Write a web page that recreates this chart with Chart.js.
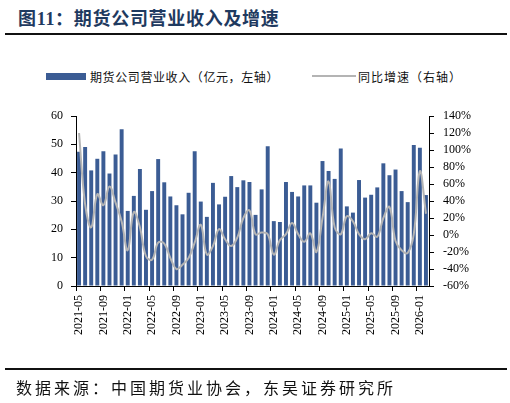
<!DOCTYPE html>
<html><head><meta charset="utf-8">
<script src="https://cdn.jsdelivr.net/npm/chart.js@4/dist/chart.umd.min.js"></script>
<style>
html,body{margin:0;padding:0;background:#fff;}
#wrap{position:relative;width:510px;height:403px;overflow:hidden;font-family:"Liberation Serif","Noto Sans CJK SC",serif;}
#title{position:absolute;left:18px;top:4px;font-family:"Liberation Serif","Noto Sans CJK SC",serif;font-weight:bold;font-size:18px;color:#1F3A60;white-space:nowrap;letter-spacing:0.7px;}
#tline{position:absolute;left:5px;top:33px;width:502px;height:2px;background:#111;}
#fline{position:absolute;left:5px;top:368px;width:502px;height:2px;background:#111;}
#foot{position:absolute;left:16px;top:375px;font-family:"Noto Sans CJK SC",sans-serif;font-size:16px;letter-spacing:3px;color:#111;white-space:nowrap;}
.lg{position:absolute;top:68px;font-family:"Noto Sans CJK SC",sans-serif;font-size:12px;color:#111;white-space:nowrap;}
#lgbar{position:absolute;left:46px;top:73px;width:40px;height:7px;background:#3B5C94;}
#lgline{position:absolute;left:312px;top:75px;width:44px;height:2px;background:#B4B4B4;}
#cv{position:absolute;left:0;top:0;}
</style></head>
<body>
<div id="wrap">
<div id="title">图11：期货公司营业收入及增速</div>
<div id="tline"></div>
<div id="lgbar"></div>
<div class="lg" id="lg1" style="left:90px;letter-spacing:0.6px;">期货公司营业收入（亿元，左轴）</div>
<div id="lgline"></div>
<div class="lg" id="lg2" style="left:358px;letter-spacing:1px;">同比增速（右轴）</div>
<div style="position:absolute;left:0;top:0;width:510px;height:403px;"><canvas id="cv" width="510" height="403"></canvas></div>
<div id="fline"></div>
<div id="foot">数据来源：中国期货业协会，东吴证券研究所</div>
</div>
<script>
const months = [
"2021-05","2021-06","2021-07","2021-08","2021-09","2021-10","2021-11","2021-12",
"2022-01","2022-02","2022-03","2022-04","2022-05","2022-06","2022-07","2022-08","2022-09","2022-10","2022-11","2022-12",
"2023-01","2023-02","2023-03","2023-04","2023-05","2023-06","2023-07","2023-08","2023-09","2023-10","2023-11","2023-12",
"2024-01","2024-02","2024-03","2024-04","2024-05","2024-06","2024-07","2024-08","2024-09","2024-10","2024-11","2024-12",
"2025-01","2025-02","2025-03","2025-04","2025-05","2025-06","2025-07","2025-08","2025-09","2025-10","2025-11","2025-12",
"2026-01","2026-02"];
const revenue = [
47.4,49.1,40.8,44.9,47.6,39.7,46.4,55.3,
26.5,31.8,41.3,26.9,33.5,44.8,36.6,31.6,28.5,25.3,32.9,47.6,
29.8,24.4,36.4,28.8,31.5,38.8,34.9,37.3,36.7,25.1,34.1,49.3,
22.9,22.6,36.7,33.2,31.6,35.5,35.5,29.4,44.1,40.6,37.8,48.5,
28.1,25.9,37.4,31.2,32.2,34.8,43.3,39.1,41.1,33.5,29.6,49.8,
48.8,32.1];
const growth = [
120,36,9,48,35,57,38,16,
-18,27,9,-25,-29,-9,-10,-27,-40,-35,-27,-9,
12,-23,-13,7,-5,-13,-3,20,29,1,3,1,
-23,-6,1,14,1,-8,2,-20,20,63,9,1,
22,16,1,-5,2,-2,20,33,-7,-18,-21,1,
75,25];
const leftTicks = {min:0,max:60,step:10};
const rightTicks = {min:-60,max:140,step:20};

const tickFont = {family:"'Liberation Serif', serif", size:12};
new Chart(document.getElementById('cv'), {
  type:'bar',
  data:{
    labels: months,
    datasets:[
      {type:'line', label:'同比增速（右轴）', data: growth, yAxisID:'y1', borderColor:'#B4B4B4', borderWidth:2, pointRadius:0, tension:0.4, order:0, fill:false},
      {type:'bar', label:'期货公司营业收入（亿元，左轴）', data: revenue, yAxisID:'y', backgroundColor:'#3B5C94', barPercentage:0.68, categoryPercentage:0.95, order:1}
    ]
  },
  options:{
    responsive:false, animation:false, devicePixelRatio:1,
    layout:{padding:{left:43,right:30,top:116,bottom:64}},
    plugins:{legend:{display:false}, tooltip:{enabled:false}},
    scales:{
      x:{
        offset:true,
        grid:{offset:true, drawOnChartArea:false, tickLength:5, tickColor:(c)=> (c.index%4===0 ? '#000' : 'rgba(0,0,0,0)')},
        border:{color:'#000', width:1},
        ticks:{autoSkip:false, minRotation:90, maxRotation:90, color:'#000', font:tickFont, padding:4,
          callback:function(v,i){ return i%4===0 ? this.getLabelForValue(v) : ''; }}
      },
      y:{
        position:'left', min:leftTicks.min, max:leftTicks.max,
        grid:{drawOnChartArea:false, tickLength:5, tickColor:'#000'},
        border:{color:'#000', width:1},
        ticks:{autoSkip:false, stepSize:leftTicks.step, color:'#000', font:tickFont, padding:8}
      },
      y1:{
        position:'right', min:rightTicks.min, max:rightTicks.max,
        grid:{drawOnChartArea:false, tickLength:5, tickColor:'#000'},
        border:{color:'#000', width:1},
        ticks:{autoSkip:false, stepSize:rightTicks.step, color:'#000', font:tickFont, padding:9, callback:(v)=> v+'%'}
      }
    }
  }
});
</script>
</body></html>
